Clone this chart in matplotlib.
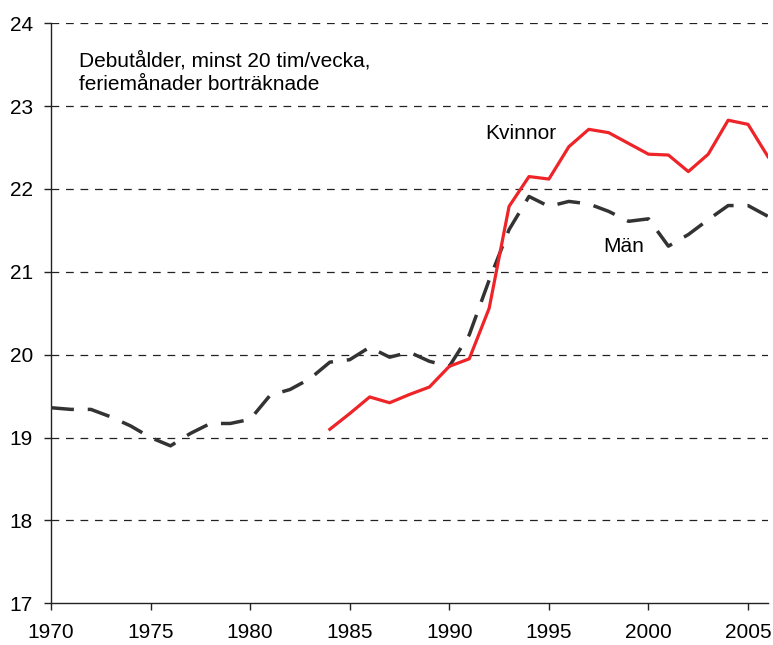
import matplotlib
matplotlib.use("Agg")
import matplotlib.pyplot as plt

plt.rcParams['font.family'] = ['Liberation Sans', 'DejaVu Sans']

years_men = list(range(1970, 2007))
men = [19.36, 19.34, 19.34, 19.25, 19.14, 19.00, 18.90, 19.05, 19.17, 19.17,
       19.22, 19.51, 19.58, 19.71, 19.91, 19.94, 20.09, 19.97, 20.03, 19.92,
       19.86, 20.24, 20.90, 21.51, 21.91, 21.79, 21.85, 21.82, 21.73, 21.61,
       21.64, 21.31, 21.45, 21.63, 21.80, 21.80, 21.67]

years_women = list(range(1984, 2007))
women = [19.10, 19.29, 19.49, 19.42, 19.52, 19.61, 19.86, 19.95, 20.56, 21.79,
         22.15, 22.12, 22.51, 22.72, 22.68, 22.55, 22.42, 22.41, 22.21, 22.42,
         22.83, 22.78, 22.39]

x_ticks = [1970, 1975, 1980, 1985, 1990, 1995, 2000, 2005]
y_ticks = [17, 18, 19, 20, 21, 22, 23, 24]

fig = plt.figure(figsize=(7.73, 6.45), dpi=100)
ax = fig.add_axes([0.066, 0.0647, 0.9275, 0.8992])

for yv in y_ticks[1:]:
    ax.axhline(yv, color='#222222', lw=0.9, dashes=(6.2, 5.4), zorder=1)

ax.plot(years_men, men, color='#333333', lw=2.5, dashes=(6.6, 4.0),
        solid_joinstyle='miter', zorder=3)
ax.plot(years_women, women, color='#EE2428', lw=2.3, zorder=4)

ax.set_xlim(1970, 2006)
ax.set_ylim(17, 24)
ax.set_xticks(x_ticks)
ax.set_yticks(y_ticks)
ax.tick_params(axis='both', labelsize=15, direction='out', length=5, width=1, color='#222222')
ax.tick_params(axis='y', pad=8)
ax.tick_params(axis='x', pad=9)

for s in ['top', 'right']:
    ax.spines[s].set_visible(False)
for s in ['left', 'bottom']:
    ax.spines[s].set_linewidth(1)
    ax.spines[s].set_color('#222222')

ax.text(1971.4, 23.406, "Debutålder, minst 20 tim/vecka,\nferiemånader bortr\u00e4knade",
        fontsize=15, ha='left', va='center', linespacing=1.32)
ax.text(1991.8, 22.665, "Kvinnor", fontsize=15, ha='left', va='center')
ax.text(1997.75, 21.30, "Män", fontsize=15, ha='left', va='center')

fig.savefig("out.png", dpi=100)
